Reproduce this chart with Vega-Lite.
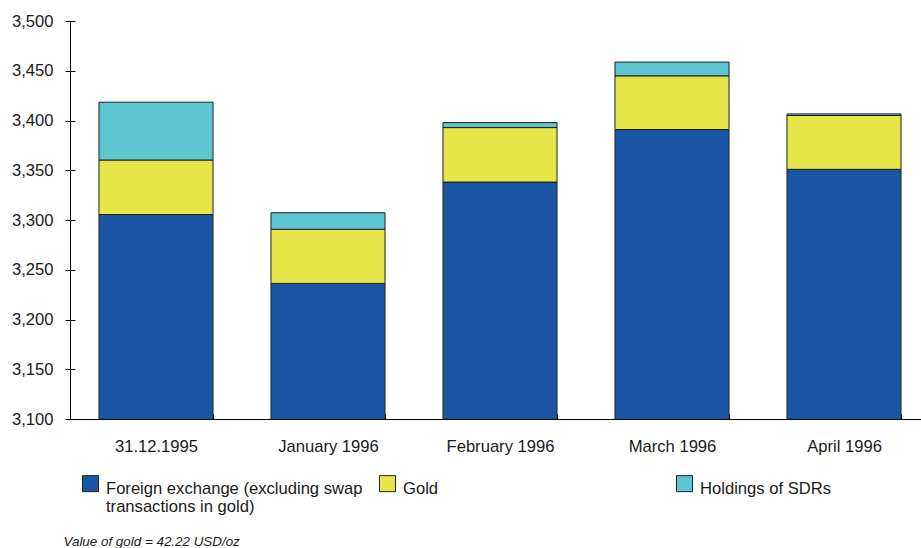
{
  "$schema": "https://vega.github.io/schema/vega-lite/v6.json",
  "width": 860,
  "height": 398,
  "autosize": {"type": "none"},
  "padding": {"left": 70, "top": 21, "right": 0, "bottom": 129},
  "background": "white",
  "config": {
    "view": {"stroke": null},
    "font": "Liberation Sans",
    "axis": {"labelFont": "Liberation Sans", "labelFontSize": 16.6, "labelColor": "#1a1a1a", "domainColor": "#000", "tickColor": "#000", "grid": false}
  },
  "data": {
    "values": [
      {"date": "31.12.1995", "series": "Foreign exchange (excluding swap transactions in gold)", "value": 3305.5},
      {"date": "31.12.1995", "series": "Gold", "value": 54.8},
      {"date": "31.12.1995", "series": "Holdings of SDRs", "value": 58.1},
      {"date": "January 1996", "series": "Foreign exchange (excluding swap transactions in gold)", "value": 3236.3},
      {"date": "January 1996", "series": "Gold", "value": 54.4},
      {"date": "January 1996", "series": "Holdings of SDRs", "value": 16.6},
      {"date": "February 1996", "series": "Foreign exchange (excluding swap transactions in gold)", "value": 3338.1},
      {"date": "February 1996", "series": "Gold", "value": 54.8},
      {"date": "February 1996", "series": "Holdings of SDRs", "value": 5.0},
      {"date": "March  1996", "series": "Foreign exchange (excluding swap transactions in gold)", "value": 3390.9},
      {"date": "March  1996", "series": "Gold", "value": 54.0},
      {"date": "March  1996", "series": "Holdings of SDRs", "value": 13.8},
      {"date": "April 1996", "series": "Foreign exchange (excluding swap transactions in gold)", "value": 3350.9},
      {"date": "April 1996", "series": "Gold", "value": 54.1},
      {"date": "April 1996", "series": "Holdings of SDRs", "value": 1.6}
    ]
  },
  "resolve": {"axis": {"y": "independent"}},
  "layer": [
    {
      "mark": {"type": "bar", "clip": true, "stroke": "#1f1f1f", "strokeWidth": 1},
      "encoding": {
        "x": {
          "field": "date",
          "type": "nominal",
          "sort": null,
          "scale": {"paddingInner": 0.337, "paddingOuter": 0.1685},
          "axis": {"labelAngle": 0, "tickBand": "extent", "tickSize": -5, "labelPadding": 24, "labelLimit": 200,
            "title": "Value of gold = 42.22 USD/oz", "titleX": -7, "titleY": 126, "titleAlign": "left", "titleAnchor": "start", "titleBaseline": "alphabetic",
            "titleFont": "Liberation Sans", "titleFontSize": 13.4, "titleFontStyle": "italic", "titleFontWeight": "normal", "titleColor": "#1a1a1a"}
        },
        "y": {
          "field": "value",
          "type": "quantitative",
          "stack": "zero",
          "scale": {"domain": [3100, 3500], "nice": false, "zero": false},
          "axis": {"orient": "left", "title": null, "values": [3100, 3150, 3200, 3250, 3300, 3350, 3400, 3450, 3500], "format": ",d", "tickSize": 5, "labelPadding": 12}
        },
        "order": {"field": "series", "type": "nominal", "sort": "ascending"},
        "color": {
          "field": "series",
          "type": "nominal",
          "scale": {"range": ["#1b56a4", "#e6e64b", "#5dc6d3"]},
          "legend": {
            "orient": "none",
            "direction": "horizontal",
            "columns": 3,
            "gridAlign": "all",
            "columnPadding": 14,
            "legendX": 12,
            "legendY": 451,
            "title": null,
            "symbolType": "M-1,-0.625H1V1.375H-1Z",
            "symbolSize": 256,
            "symbolStrokeColor": "#222",
            "symbolStrokeWidth": 1,
            "symbolOpacity": 1,
            "labelFont": "Liberation Sans",
            "labelFontSize": 16.6,
            "labelColor": "#1a1a1a",
            "labelOffset": 7,
            "labelLimit": 400,
            "labelBaseline": "top",
            "labelExpr": "datum.label == 'Foreign exchange (excluding swap transactions in gold)' ? ['Foreign exchange (excluding swap', 'transactions in gold)'] : [datum.label, ' ']"
          }
        }
      }
    },
    {
      "mark": {"type": "bar", "opacity": 0},
      "encoding": {
        "x": {
          "field": "date",
          "type": "nominal",
          "sort": null,
          "scale": {"paddingInner": 0.337, "paddingOuter": 0.1685},
          "axis": {"labelAngle": 0, "tickBand": "extent", "tickSize": -5, "labelPadding": 24, "labelLimit": 200,
            "title": "Value of gold = 42.22 USD/oz", "titleX": -7, "titleY": 126, "titleAlign": "left", "titleAnchor": "start", "titleBaseline": "alphabetic",
            "titleFont": "Liberation Sans", "titleFontSize": 13.4, "titleFontStyle": "italic", "titleFontWeight": "normal", "titleColor": "#1a1a1a"}
        },
        "y": {
          "field": "value",
          "type": "quantitative",
          "stack": "zero",
          "axis": {"orient": "left", "title": null, "values": [3100, 3150, 3200, 3250, 3300, 3350, 3400, 3450, 3500], "tickSize": -5, "labels": false, "domain": false}
        }
      }
    }
  ]
}
